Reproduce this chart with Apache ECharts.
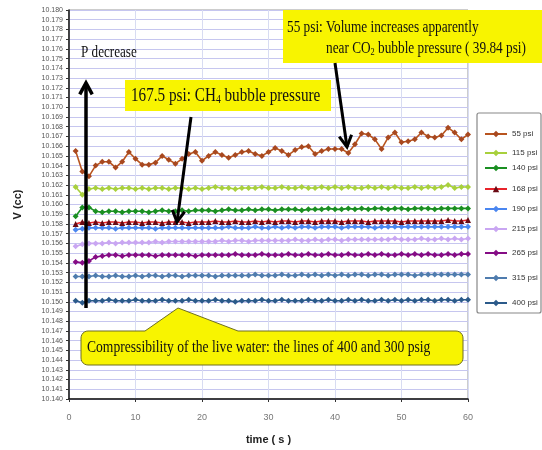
<!DOCTYPE html>
<html><head><meta charset="utf-8">
<script src="https://cdn.jsdelivr.net/npm/echarts@6/dist/echarts.min.js"></script>
<style>html,body{margin:0;padding:0;background:#fff}#c{width:542px;height:450px}</style>
</head><body><div id="c"></div><script>
const times = [1,2,3,4,5,6,7,8,9,10,11,12,13,14,15,16,17,18,19,20,21,22,23,24,25,26,27,28,29,30,31,32,33,34,35,36,37,38,39,40,41,42,43,44,45,46,47,48,49,50,51,52,53,54,55,56,57,58,59,60];
const seriesNames = ['55 psi','115 psi','140 psi','168 psi','190 psi','215 psi','265 psi','315 psi','400 psi'];
const yTicks = {min: 10.140, max: 10.180, step: 0.001};
const xTicks = {min: 0, max: 60, step: 10};
const v55 = [10.1655,10.1634,10.1629,10.1640,10.1644,10.1644,10.1638,10.1644,10.1654,10.1647,
             10.1641,10.1641,10.1643,10.1650,10.1646,10.1642,10.1647,10.1652,10.1654,10.1645,
             10.1650,10.1654,10.1651,10.1648,10.1651,10.1654,10.1655,10.1652,10.1650,10.1654,
             10.1658,10.1655,10.1651,10.1656,10.1659,10.1660,10.1652,10.1655,10.1657,10.1657,
             10.1657,10.1653,10.1662,10.1673,10.1672,10.1667,10.1657,10.1669,10.1674,10.1664,
             10.1665,10.1667,10.1674,10.1670,10.1669,10.1671,10.1679,10.1674,10.1667,10.1672];
const v115 = [10.1618,10.1610,10.1616,10.1617,10.1616,10.1617,10.1616,10.1617,10.1617,10.1616,
              10.1617,10.1616,10.1617,10.1617,10.1616,10.1617,10.1617,10.1616,10.1617,10.1616,
              10.1617,10.1618,10.1617,10.1617,10.1616,10.1617,10.1617,10.1617,10.1618,10.1617,
              10.1617,10.1618,10.1617,10.1617,10.1618,10.1617,10.1617,10.1618,10.1617,10.1618,
              10.1617,10.1618,10.1617,10.1617,10.1618,10.1617,10.1618,10.1617,10.1618,10.1617,
              10.1617,10.1618,10.1617,10.1618,10.1617,10.1618,10.1620,10.1617,10.1618,10.1618];
const v140 = [10.1588,10.1597,10.1597,10.1593,10.1592,10.1593,10.1593,10.1592,10.1593,10.1593,
              10.1593,10.1592,10.1593,10.1594,10.1593,10.1593,10.1594,10.1593,10.1594,10.1594,
              10.1594,10.1593,10.1594,10.1595,10.1594,10.1594,10.1595,10.1594,10.1595,10.1595,
              10.1594,10.1595,10.1595,10.1595,10.1594,10.1595,10.1595,10.1595,10.1596,10.1595,
              10.1595,10.1596,10.1595,10.1596,10.1595,10.1596,10.1596,10.1595,10.1596,10.1596,
              10.1595,10.1596,10.1596,10.1596,10.1595,10.1596,10.1596,10.1596,10.1596,10.1596];
const v168 = [10.1580,10.1582,10.1581,10.1582,10.1581,10.1582,10.1582,10.1581,10.1582,10.1582,
              10.1581,10.1582,10.1582,10.1581,10.1582,10.1582,10.1582,10.1581,10.1582,10.1582,
              10.1582,10.1583,10.1582,10.1582,10.1583,10.1582,10.1582,10.1583,10.1582,10.1583,
              10.1582,10.1583,10.1583,10.1582,10.1583,10.1583,10.1582,10.1583,10.1583,10.1583,
              10.1582,10.1583,10.1583,10.1583,10.1582,10.1583,10.1583,10.1583,10.1583,10.1582,
              10.1583,10.1583,10.1583,10.1583,10.1583,10.1583,10.1584,10.1583,10.1583,10.1584];
const v190 = [10.1574,10.1575,10.1576,10.1576,10.1576,10.1576,10.1575,10.1576,10.1576,10.1576,
              10.1576,10.1576,10.1575,10.1576,10.1576,10.1576,10.1576,10.1576,10.1576,10.1576,
              10.1576,10.1576,10.1576,10.1577,10.1576,10.1576,10.1576,10.1577,10.1576,10.1576,
              10.1577,10.1576,10.1577,10.1576,10.1577,10.1577,10.1576,10.1577,10.1577,10.1577,
              10.1576,10.1577,10.1577,10.1577,10.1577,10.1576,10.1577,10.1577,10.1577,10.1577,
              10.1577,10.1577,10.1577,10.1577,10.1577,10.1577,10.1577,10.1577,10.1577,10.1577];
const v215 = [10.1557,10.1559,10.1560,10.1560,10.1560,10.1561,10.1560,10.1561,10.1561,10.1561,
              10.1561,10.1561,10.1562,10.1561,10.1562,10.1562,10.1562,10.1562,10.1562,10.1562,
              10.1562,10.1562,10.1563,10.1562,10.1563,10.1563,10.1562,10.1563,10.1563,10.1563,
              10.1563,10.1563,10.1563,10.1564,10.1563,10.1563,10.1564,10.1563,10.1564,10.1564,
              10.1563,10.1564,10.1564,10.1564,10.1564,10.1564,10.1564,10.1564,10.1565,10.1564,
              10.1564,10.1564,10.1565,10.1564,10.1564,10.1565,10.1564,10.1565,10.1564,10.1565];
const v265 = [10.1541,10.1540,10.1542,10.1546,10.1547,10.1548,10.1548,10.1547,10.1548,10.1548,
              10.1548,10.1548,10.1547,10.1548,10.1548,10.1548,10.1548,10.1548,10.1547,10.1548,
              10.1548,10.1548,10.1548,10.1548,10.1549,10.1548,10.1548,10.1548,10.1549,10.1548,
              10.1548,10.1548,10.1549,10.1548,10.1548,10.1549,10.1548,10.1548,10.1549,10.1548,
              10.1548,10.1549,10.1548,10.1548,10.1549,10.1548,10.1549,10.1548,10.1548,10.1549,
              10.1548,10.1549,10.1548,10.1549,10.1548,10.1548,10.1549,10.1548,10.1549,10.1549];
const v315 = [10.1526,10.1526,10.1526,10.1527,10.1526,10.1526,10.1527,10.1526,10.1526,10.1527,
              10.1526,10.1527,10.1527,10.1526,10.1527,10.1527,10.1526,10.1527,10.1527,10.1527,
              10.1527,10.1526,10.1527,10.1527,10.1527,10.1527,10.1527,10.1528,10.1527,10.1527,
              10.1527,10.1528,10.1527,10.1527,10.1528,10.1527,10.1528,10.1527,10.1528,10.1527,
              10.1528,10.1527,10.1528,10.1528,10.1527,10.1528,10.1528,10.1527,10.1528,10.1528,
              10.1528,10.1527,10.1528,10.1528,10.1528,10.1528,10.1528,10.1528,10.1528,10.1528];
const v400 = [10.1501,10.1499,10.1501,10.1501,10.1501,10.1502,10.1501,10.1501,10.1501,10.1502,
              10.1501,10.1501,10.1501,10.1502,10.1501,10.1501,10.1501,10.1502,10.1501,10.1501,
              10.1501,10.1502,10.1501,10.1501,10.1500,10.1501,10.1501,10.1501,10.1502,10.1501,
              10.1501,10.1502,10.1501,10.1501,10.1501,10.1502,10.1501,10.1501,10.1502,10.1501,
              10.1501,10.1502,10.1501,10.1502,10.1501,10.1501,10.1502,10.1501,10.1502,10.1501,
              10.1502,10.1501,10.1502,10.1502,10.1501,10.1502,10.1502,10.1501,10.1502,10.1502];
const allValues = [v55, v115, v140, v168, v190, v215, v265, v315, v400];

// styles
const lineColors = ['#b8541f','#a8d03c','#1a8f22','#e8242c','#4a86f0','#c9a6f2','#850c85','#4f7cae','#2b5a8a'];
const markerColors = ['#a8481f','#a8d03c','#1a8f22','#6a0a14','#4a86f0','#c9a6f2','#850c85','#4f7cae','#2b5a8a'];
const markerShapes = ['diamond','diamond','diamond','triangle','diamond','diamond','diamond','diamond','diamond'];
const legendY = [134,153,168,189,209,229,253,278,303];

const chart = echarts.init(document.getElementById('c'), null, {renderer:'canvas'});
const series = seriesNames.map((n,i)=>({
  name:n, type:'line', data: times.map((t,k)=>[t, allValues[i][k]]),
  symbol: markerShapes[i], symbolSize: 6,
  lineStyle:{color:lineColors[i], width:1.6},
  itemStyle:{color:markerColors[i], borderWidth:0},
  emphasis:{disabled:true}, animation:false, z: 3 + (9-i)
}));
const legends = seriesNames.map((n,i)=>({
  data:[n], left:484, top: legendY[i]-4, padding:0, itemWidth:22, itemHeight:8, z:60,
  textStyle:{fontSize:8, color:'#333', fontFamily:'Liberation Sans Narrow, Liberation Sans, Arial'},
  itemGap:0, selectedMode:false
}));

const SERIF = 'Liberation Serif';
function arrow(x1,y1,x2,y2,w){
  const a = Math.atan2(y2-y1,x2-x1), L=13, s=0.5;
  const p1=[x2-L*Math.cos(a-s), y2-L*Math.sin(a-s)];
  const p2=[x2-L*Math.cos(a+s), y2-L*Math.sin(a+s)];
  return [
    {type:'polyline', z:50, shape:{points:[[x1,y1],[x2,y2]]}, style:{stroke:'#000', lineWidth:w, fill:null}},
    {type:'polyline', z:50, shape:{points:[p1,[x2,y2],p2]}, style:{stroke:'#000', lineWidth:w, fill:null, lineJoin:'miter'}}
  ];
}
function calloutPoints(x,y,w,h,r,bx1,ax,ay,bx2){
  const pts=[];
  const arc=(cx,cy,a0,a1)=>{for(let k=0;k<=6;k++){const a=a0+(a1-a0)*k/6;pts.push([cx+r*Math.cos(a),cy+r*Math.sin(a)]);}};
  pts.push([bx1,y],[ax,ay],[bx2,y]);
  arc(x+w-r,y+r,-Math.PI/2,0);
  arc(x+w-r,y+h-r,0,Math.PI/2);
  arc(x+r,y+h-r,Math.PI/2,Math.PI);
  arc(x+r,y+r,Math.PI,Math.PI*1.5);
  return pts;
}
const YEL='#f8f400';
const graphics = [
  {type:'rect', z:1, shape:{x:477,y:113,width:64,height:200,r:2}, style:{fill:'#fff', stroke:'#888', lineWidth:1.2}},
  ...arrow(86,308,86,83,3.5),
  {type:'text', z:50, x:81, y:53, scaleX:0.82, style:{text:'P decrease', font:'16px '+SERIF, fill:'#111', verticalAlign:'middle'}},
  {type:'rect', z:45, shape:{x:125,y:80,width:206,height:31}, style:{fill:YEL}},
  {type:'text', z:50, x:131, y:96, scaleX:0.8, style:{text:'167.5 psi: CH{s|4} bubble pressure', font:'19px '+SERIF, fill:'#111', verticalAlign:'middle',
     rich:{s:{fontSize:12, fontFamily:SERIF, padding:[8,0,0,0], fill:'#111'}}}},
  ...arrow(191,117,177,222,3),
  {type:'rect', z:45, shape:{x:283,y:10,width:259,height:53}, style:{fill:YEL}},
  {type:'text', z:50, x:287, y:28, scaleX:0.83, style:{text:'55 psi: Volume increases apparently', font:'16px '+SERIF, fill:'#111', verticalAlign:'middle'}},
  {type:'text', z:50, x:326, y:49, scaleX:0.83, style:{text:'near CO{s|2} bubble pressure ( 39.84 psi)', font:'16px '+SERIF, fill:'#111', verticalAlign:'middle',
     rich:{s:{fontSize:10, fontFamily:SERIF, padding:[7,0,0,0], fill:'#111'}}}},
  ...arrow(335,63,347,147,3),
  {type:'polygon', z:45, shape:{points:calloutPoints(81,331,382,34,7,145,178,308,238)}, style:{fill:YEL, stroke:'#6f6f20', lineWidth:1}},
  {type:'text', z:50, x:87, y:348, scaleX:0.8, style:{text:'Compressibility of the live water: the lines of 400 and 300 psig', font:'17px '+SERIF, fill:'#111', verticalAlign:'middle'}}
];

chart.setOption({
  animation:false,
  backgroundColor:'#fff',
  grid:{left:69, right:74, top:10, bottom:48, show:true, borderColor:'#9a9a9a', borderWidth:1, containLabel:false},
  xAxis:{type:'value', min:xTicks.min, max:xTicks.max, interval:xTicks.step,
    name:'time ( s )', nameLocation:'middle', nameGap:35,
    nameTextStyle:{fontSize:11, fontWeight:'bold', color:'#222', fontFamily:'Liberation Sans Narrow, Liberation Sans, Arial'},
    axisLine:{show:true, onZero:false, lineStyle:{color:'#111', width:1.5}},
    axisTick:{show:true, inside:false, length:3, lineStyle:{color:'#333'}},
    axisLabel:{fontSize:9, color:'#777', margin:14, fontFamily:'Liberation Sans Narrow, Liberation Sans, Arial'},
    splitLine:{show:true, lineStyle:{color:'#d8dcf2', width:1}}},
  yAxis:{type:'value', min:yTicks.min, max:yTicks.max, interval:yTicks.step,
    name:'V (cc)', nameLocation:'middle', nameGap:46, nameRotate:90,
    nameTextStyle:{fontSize:11, fontWeight:'bold', color:'#222', fontFamily:'Liberation Sans, Arial'},
    axisLine:{show:true, lineStyle:{color:'#111', width:1.5}},
    axisTick:{show:true, length:3, lineStyle:{color:'#333'}},
    axisLabel:{fontSize:7, color:'#555', margin:6, formatter:v=>v.toFixed(3), fontFamily:'Liberation Sans Narrow, Liberation Sans, Arial'},
    splitLine:{show:true, lineStyle:{color:'#c6c6ef', width:1}}},
  legend: legends,
  series: series,
  graphic: graphics
});
</script></body></html>
